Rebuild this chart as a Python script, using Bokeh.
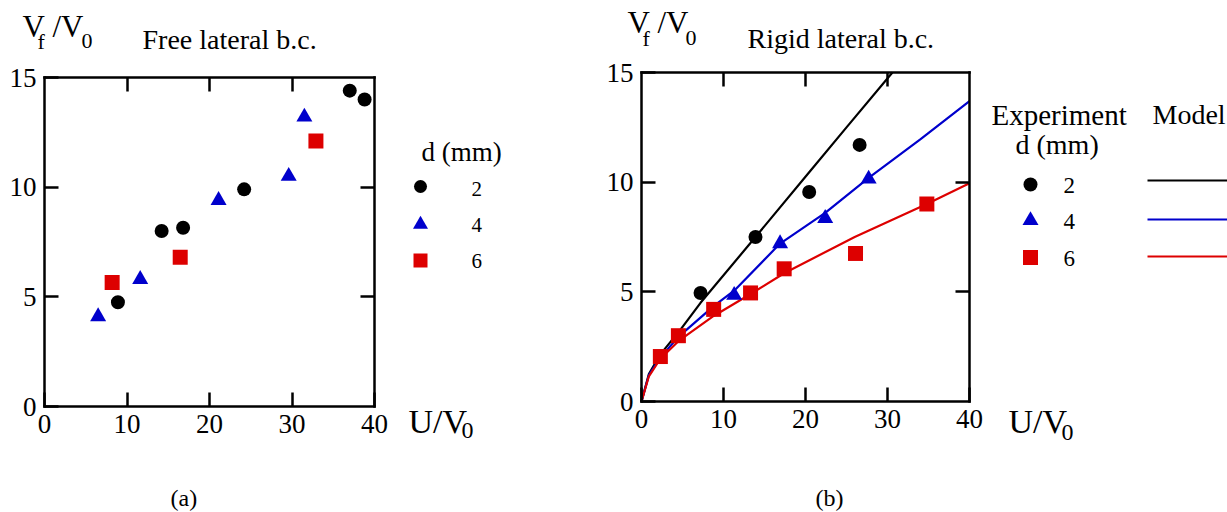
from bokeh.plotting import figure
from bokeh.models import Range1d, FixedTicker, LinearAxis, Label
from bokeh.embed import file_html
from bokeh.resources import INLINE

# ---------------- data ----------------
# (a) Free lateral b.c. -- experiment, d = 2, 4, 6 mm
free_d2_x = [8.9, 14.2, 16.8, 24.2, 37.0, 38.8]
free_d2_y = [4.75, 8.0, 8.15, 9.9, 14.4, 14.0]
free_d4_x = [6.5, 11.6, 21.1, 29.6, 31.5]
free_d4_y = [4.1, 5.8, 9.4, 10.5, 13.2]
free_d6_x = [8.2, 16.45, 32.9]
free_d6_y = [5.65, 6.8, 12.1]

# (b) Rigid lateral b.c. -- experiment
rigid_d2_x = [7.2, 13.9, 20.45, 26.6]
rigid_d2_y = [4.95, 7.5, 9.55, 11.7]
rigid_d4_x = [11.3, 16.9, 22.4, 27.7]
rigid_d4_y = [4.85, 7.2, 8.35, 10.15]
rigid_d6_x = [2.3, 4.5, 8.8, 13.3, 17.4, 26.1, 34.8]
rigid_d6_y = [2.05, 3.0, 4.2, 4.95, 6.05, 6.75, 9.0]

# (b) model curves
model_d2_x = [0, 0.9, 2.3, 4.8, 7.2, 13.9, 20.45, 25.0, 30.6]
model_d2_y = [0, 1.25, 2.15, 3.3, 4.5, 7.5, 10.45, 12.5, 15.0]
model_d4_x = [0, 0.9, 2.3, 4.5, 8.8, 11.3, 16.9, 22.4, 27.7, 34.0, 40.0]
model_d4_y = [0, 1.2, 2.0, 2.95, 4.35, 5.05, 7.2, 8.6, 10.2, 11.95, 13.7]
model_d6_x = [0, 0.9, 2.3, 4.5, 8.8, 13.3, 17.4, 26.0, 34.8, 40.0]
model_d6_y = [0, 1.15, 1.95, 2.75, 3.9, 4.9, 5.85, 7.5, 9.0, 9.95]

x_ticks = [0, 10, 20, 30, 40]
y_ticks = [0, 5, 10, 15]
legend_labels = ["2", "4", "6"]

SERIF = "Liberation Serif"
BLACK = "#000000"
BLUE = "#0000cc"
RED = "#dd0000"
COLORS = [BLACK, BLUE, RED]
MARKERS = ["circle", "triangle", "square"]
MSIZE = {"circle": 14, "triangle": 16, "square": 15}

W, H = 1227, 512
p = figure(width=W, height=H, min_border=0,
           x_range=Range1d(0, W), y_range=Range1d(H, 0),
           x_axis_location=None, y_axis_location=None,
           output_backend="svg", toolbar_location=None, tools="")
p.title.visible = False
p.grid.visible = False
p.outline_line_color = None
p.background_fill_color = "white"
p.border_fill_color = "white"

# panel placement on the page (frame edges in px)
SY = 329 / 15
A_L, A_B, A_SX = 44, 406, 8.25
B_L, B_B, B_SX = 641, 401, 8.2
p.extra_x_ranges = {
    "xa": Range1d(-A_L / A_SX, (W - A_L) / A_SX),
    "xb": Range1d(-B_L / B_SX, (W - B_L) / B_SX),
}
p.extra_y_ranges = {
    "ya": Range1d((A_B - H) / SY, A_B / SY),
    "yb": Range1d((B_B - H) / SY, B_B / SY),
}


def style_axis(ax, labels=True):
    ax.axis_line_color = "black"
    ax.axis_line_width = 2.5
    ax.axis_line_cap = "square"
    ax.major_tick_in = 14
    ax.major_tick_out = 0
    ax.major_tick_line_width = 2.5
    ax.major_tick_line_color = "black"
    ax.minor_tick_line_color = None
    ax.major_label_text_font = SERIF
    ax.major_label_text_font_size = "27px"
    ax.major_label_text_color = "black" if labels else None


def add_box(xr, yr):
    kw = dict(x_range_name=xr, y_range_name=yr)
    bottom = LinearAxis(fixed_location=0, bounds=(0, 40),
                        ticker=FixedTicker(ticks=x_ticks), **kw)
    top = LinearAxis(fixed_location=15, bounds=(0, 40),
                     ticker=FixedTicker(ticks=x_ticks[1:-1]), **kw)
    left = LinearAxis(fixed_location=0, bounds=(0, 15),
                      ticker=FixedTicker(ticks=y_ticks), **kw)
    right = LinearAxis(fixed_location=40, bounds=(0, 15),
                       ticker=FixedTicker(ticks=y_ticks[1:-1]), **kw)
    style_axis(bottom)
    style_axis(left)
    style_axis(top, labels=False)
    style_axis(right, labels=False)
    bottom.major_label_standoff = 8
    left.major_label_standoff = 8
    p.add_layout(bottom, "below")
    p.add_layout(top, "above")
    p.add_layout(left, "left")
    p.add_layout(right, "right")


def lab(x, base, text, size, align="left"):
    # the label's anchor sits ~0.34 em above the drawn baseline
    p.add_layout(Label(x=x, y=base - 0.34 * size, text=text, text_font=SERIF,
                       text_font_size=f"{size}px", text_color="black",
                       text_baseline="alphabetic", text_align=align))


# ---------------- panel (a) ----------------
add_box("xa", "ya")
for xs, ys, m, c in zip([free_d2_x, free_d4_x, free_d6_x],
                        [free_d2_y, free_d4_y, free_d6_y], MARKERS, COLORS):
    p.scatter(xs, ys, marker=m, size=MSIZE[m], fill_color=c, line_color=None,
              x_range_name="xa", y_range_name="ya")

lab(22, 37, "V", 31)
lab(37, 48, "f", 22)
lab(52, 37, "/V", 31)
lab(81, 48, "0", 22)
lab(142, 49, "Free lateral b.c.", 28)
lab(408, 433, "U/V", 34)
lab(461, 438, "0", 24)
lab(170, 506, "(a)", 24)
lab(421, 161, "d (mm)", 27)
for m, c, yy, s in zip(MARKERS, COLORS, [186, 224, 260], [13, 15, 14]):
    p.scatter([420], [yy], marker=m, size=s, fill_color=c, line_color=None)
for t, yb in zip(legend_labels, [196, 232, 268]):
    lab(471, yb, t, 21)

# ---------------- panel (b) ----------------
add_box("xb", "yb")
for xs, ys, c in zip([model_d2_x, model_d4_x, model_d6_x],
                     [model_d2_y, model_d4_y, model_d6_y], COLORS):
    p.line(xs, ys, line_color=c, line_width=2.2,
           x_range_name="xb", y_range_name="yb")
for xs, ys, m, c in zip([rigid_d2_x, rigid_d4_x, rigid_d6_x],
                        [rigid_d2_y, rigid_d4_y, rigid_d6_y], MARKERS, COLORS):
    p.scatter(xs, ys, marker=m, size=MSIZE[m], fill_color=c, line_color=None,
              x_range_name="xb", y_range_name="yb")

lab(627, 33, "V", 31)
lab(642, 45, "f", 22)
lab(657, 33, "/V", 31)
lab(685, 45, "0", 22)
lab(747, 48, "Rigid lateral b.c.", 28)
lab(1008, 433, "U/V", 34)
lab(1061, 440, "0", 24)
lab(815, 506, "(b)", 24)
lab(991, 124, "Experiment", 29)
lab(1152, 124, "Model", 28)
lab(1015, 154, "d (mm)", 28)
for m, c, yy, s in zip(MARKERS, COLORS, [184, 220, 257], [14, 16, 15]):
    p.scatter([1030], [yy], marker=m, size=s, fill_color=c, line_color=None)
for t, yb in zip(legend_labels, [193, 229, 266]):
    lab(1063, yb, t, 23)
for c, yy in zip(COLORS, [180, 219, 256]):
    p.line([1147, 1227], [yy, yy], line_color=c, line_width=2)

open("out.html", "w").write(file_html(p, INLINE))
